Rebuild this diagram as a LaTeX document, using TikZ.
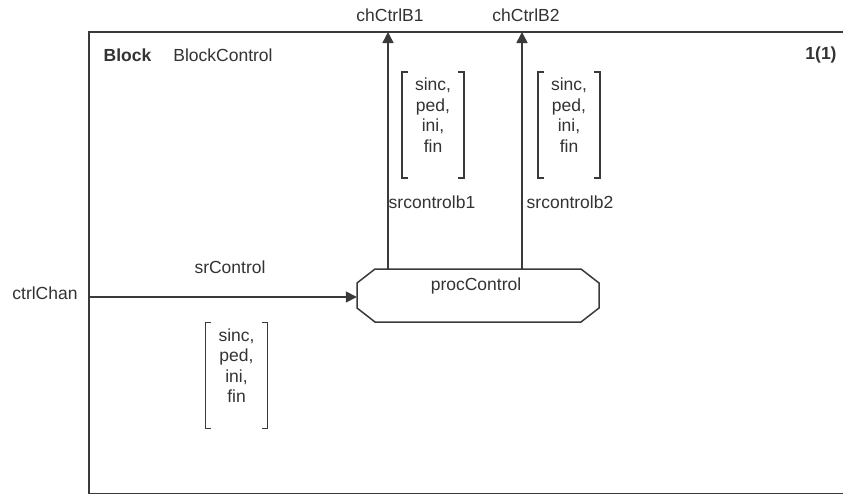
\documentclass[tikz,border=0pt]{standalone}
\usepackage{fontspec}
\setmainfont{Liberation Sans}
\usetikzlibrary{arrows.meta}
\definecolor{ink}{HTML}{3A3A3A}
\definecolor{txt}{HTML}{333333}
\begin{document}
\begin{tikzpicture}[x=1pt,y=-1pt,
  every node/.style={text=txt,font=\fontsize{17.5}{20.5}\selectfont,inner sep=0pt},
  line/.style={draw=ink,line width=1.5pt},
  flow/.style={line,-{Triangle[length=11pt,width=11pt]}},
  sigframe/.style={minimum width=62pt,minimum height=106pt,inner sep=0pt},
  sigtext/.style={align=center,anchor=north},
  bracket/.style={draw=ink,line width=1.5pt},
  procbox/.style={minimum width=242pt,minimum height=53pt,inner sep=0pt},
]
\useasboundingbox (0,0) rectangle (843,493);
\clip (0,0) rectangle (843,493);
\fill[white] (0,0) rectangle (843,493);

% block frame (runs off the right and bottom edges)
\draw[line] (89,32) rectangle (870,493.6);
\node[font=\fontsize{17.5}{20.5}\selectfont\bfseries] (kw) at (127.5,55) {Block};
\node (bname) at (223,55) {BlockControl};
\node[font=\fontsize{17.5}{20.5}\selectfont\bfseries] (page) at (821,55) {1(1)};

% process
\node[procbox] (proc) at (478,295.5) {};
\draw[line] (357,283) -- (375,269) -- (581,269) -- (599,283) -- (599,308)
  -- (581,322) -- (375,322) -- (357,308) -- cycle;
\node (plabel) at (476,286) {procControl};

% environment channel endpoints on the frame
\coordinate (envin) at (89,297);
\coordinate (gate1) at (388,32);
\coordinate (gate2) at (522,32);
\node (ctrl) at (45,293) {ctrlChan};
\node (ch1) at (390,15) {chCtrlB1};
\node (ch2) at (526,15) {chCtrlB2};

% signal routes
\draw[flow] (envin) -- (proc.west |- envin);
\draw[flow] (proc.north -| gate1) -- (gate1);
\draw[flow] (proc.north -| gate2) -- (gate2);
\node (r0) at (230,267) {srControl};
\node (r1) at (432,202) {srcontrolb1};
\node (r2) at (570,202) {srcontrolb2};

% signal lists
\foreach \n/\x/\y in {s1/433/125, s2/569/125, s0/236.5/375.5} {
  \node[sigframe] (\n) at (\x,\y) {};
  \draw[bracket] ([xshift=6pt]\n.north west) -- (\n.north west) -- (\n.south west) -- ([xshift=6pt]\n.south west);
  \draw[bracket] ([xshift=-6pt]\n.north east) -- (\n.north east) -- (\n.south east) -- ([xshift=-6pt]\n.south east);
  \node[sigtext] at ([yshift=-6pt]\n.north) {sinc,\\ped,\\ini,\\fin};
}
\end{tikzpicture}
\end{document}
